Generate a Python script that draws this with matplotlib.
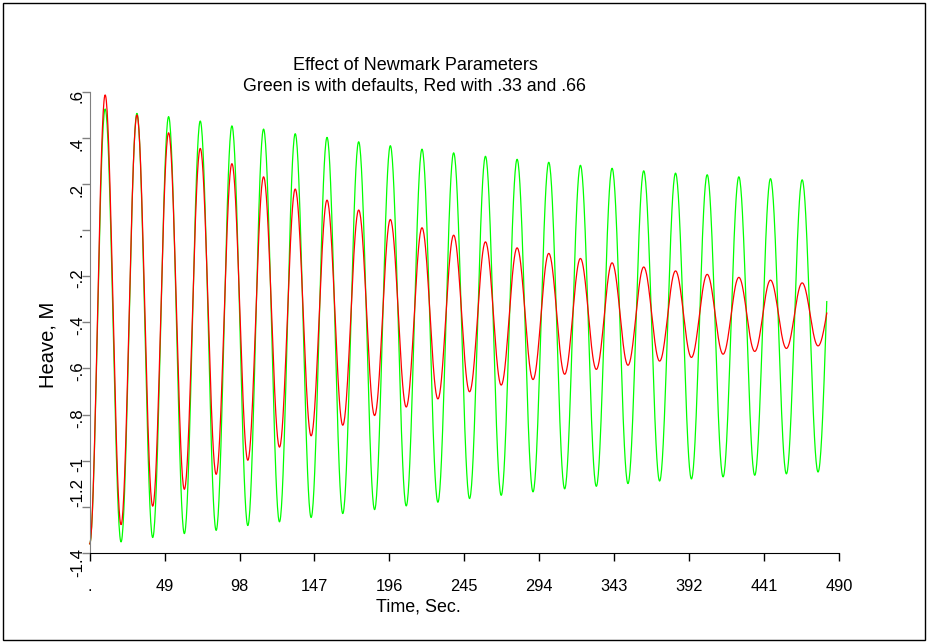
import numpy as np
import matplotlib
matplotlib.use("Agg")
import matplotlib.pyplot as plt
from matplotlib import transforms
from matplotlib.patches import Rectangle

# ---------------- data ----------------
start_time = 0.0
green_start = -1.36
red_start = -1.36

peak_time = [10.1, 30.9, 51.6, 72.3, 93.0, 113.7, 134.4, 155.2, 175.9, 196.6, 217.3, 238.0,
             258.8, 279.5, 300.2, 320.9, 341.6, 362.3, 383.1, 403.8, 424.5, 445.2, 465.9]
trough_time = [20.5, 41.2, 61.9, 82.7, 103.4, 124.1, 144.8, 165.5, 186.3, 207.0, 227.7, 248.4,
               269.1, 289.9, 310.6, 331.3, 352.0, 372.7, 393.5, 414.2, 434.9, 455.6, 476.3]

green_peak = [0.525, 0.506, 0.492, 0.473, 0.452, 0.438, 0.418, 0.402, 0.383, 0.366, 0.351, 0.335,
              0.320, 0.307, 0.294, 0.281, 0.268, 0.257, 0.247, 0.240, 0.231, 0.223, 0.218]
green_trough = [-1.352, -1.333, -1.316, -1.302, -1.281, -1.265, -1.246, -1.229, -1.212, -1.196,
                -1.180, -1.164, -1.150, -1.135, -1.122, -1.111, -1.099, -1.088, -1.079, -1.070,
                -1.063, -1.057, -1.049]
red_peak = [0.586, 0.499, 0.422, 0.354, 0.288, 0.231, 0.178, 0.130, 0.087, 0.046, 0.010, -0.022,
            -0.051, -0.077, -0.101, -0.123, -0.142, -0.160, -0.177, -0.192, -0.205, -0.217, -0.229]
red_trough = [-1.277, -1.197, -1.124, -1.059, -0.998, -0.941, -0.892, -0.846, -0.804, -0.767,
              -0.732, -0.701, -0.672, -0.648, -0.625, -0.604, -0.586, -0.568, -0.552, -0.538,
              -0.526, -0.513, -0.502]

end_time = 482.0
green_end = -0.31
red_end = -0.36

x_ticks = [0, 49, 98, 147, 196, 245, 294, 343, 392, 441, 490]
x_tick_labels = [".", "49", "98", "147", "196", "245", "294", "343", "392", "441", "490"]
y_ticks = [-1.4, -1.2, -1.0, -0.8, -0.6, -0.4, -0.2, 0.0, 0.2, 0.4, 0.6]
y_tick_labels = ["-1.4", "-1.2", "-1", "-.8", "-.6", "-.4", "-.2", ".", ".2", ".4", ".6"]

title_1 = "Effect of Newmark Parameters"
title_2 = "Green is with defaults, Red with .33 and .66"
x_label = "Time, Sec."
y_label = "Heave, M"

FONT = "Liberation Sans"


# ---------------- curve through the read extrema ----------------
def curve(start_v, peaks, troughs, end_v):
    knots_t = [start_time]
    knots_v = [start_v]
    for pt, pv, tt, tv in zip(peak_time, peaks, trough_time, troughs):
        knots_t += [pt, tt]
        knots_v += [pv, tv]
    ts, vs = [], []
    for i in range(len(knots_t) - 1):
        s = np.linspace(0, 1, 40, endpoint=False)
        ts.append(knots_t[i] + s * (knots_t[i + 1] - knots_t[i]))
        vs.append(knots_v[i] + (knots_v[i + 1] - knots_v[i]) * (1 - np.cos(np.pi * s)) / 2)
    s = np.linspace(0, 1, 20)
    ts.append(knots_t[-1] + s * (end_time - knots_t[-1]))
    vs.append(knots_v[-1] + (end_v - knots_v[-1]) * (1 - np.cos(np.pi / 2 * s)))
    return np.concatenate(ts), np.concatenate(vs)


W, H = 927, 642
fig = plt.figure(figsize=(W / 100, H / 100), dpi=100)
ax = fig.add_axes([89.7 / W, (H - 553) / H, (839 - 89.7) / W, (553 - 91.7) / H])

gt, gv = curve(green_start, green_peak, green_trough, green_end)
rt, rv = curve(red_start, red_peak, red_trough, red_end)
ax.plot(gt, gv, color="#00ff00", lw=0.9, clip_on=False)
ax.plot(rt, rv, color="#ff0000", lw=0.9, clip_on=False)

ax.set_xlim(0, 490)
ax.set_ylim(-1.4, 0.6)
ax.spines["top"].set_visible(False)
ax.spines["right"].set_visible(False)
ax.spines["left"].set_color("#808080")
ax.spines["bottom"].set_color("black")

ax.set_xticks(x_ticks)
ax.set_xticklabels(x_tick_labels, fontfamily=FONT, fontsize=11.8)
ax.set_yticks(y_ticks)
ax.set_yticklabels(y_tick_labels, fontfamily=FONT, fontsize=12.2, rotation=90,
                   va="center", ha="center")
ax.tick_params(axis="x", length=5.8, width=1, color="black", pad=12.8)
ax.tick_params(axis="y", length=5.8, width=1, color="#808080", pad=3.0)

# small vertical shifts of the rotated y labels as in the reference (pixels, down positive)
y_label_shift = [9.7, -14.0, 3.3, 4.0, 2.7, 2.7, 1.7, 5.0, 6.3, 5.7, 4.0]
for lab, dy in zip(ax.get_yticklabels(), y_label_shift):
    lab.set_transform(lab.get_transform() +
                      transforms.ScaledTranslation(0, -dy / 100, fig.dpi_scale_trans))

fig.text(415 / W, 1 - 66 / H, title_1, ha="center", va="center", fontfamily=FONT, fontsize=13)
fig.text(414 / W, 1 - 86 / H, title_2, ha="center", va="center", fontfamily=FONT, fontsize=12.8)
fig.text(418 / W, 1 - 607 / H, x_label, ha="center", va="center", fontfamily=FONT, fontsize=12.9)
fig.text(48 / W, 1 - 345 / H, y_label, ha="center", va="center", rotation=90,
         fontfamily=FONT, fontsize=14.5)

fig.patches.append(Rectangle((2.5 / W, 2.5 / H), (W - 5) / W, (H - 5) / H, transform=fig.transFigure,
                             fill=False, edgecolor="black", lw=1.0))

fig.savefig("out.png", dpi=100, facecolor="white")
